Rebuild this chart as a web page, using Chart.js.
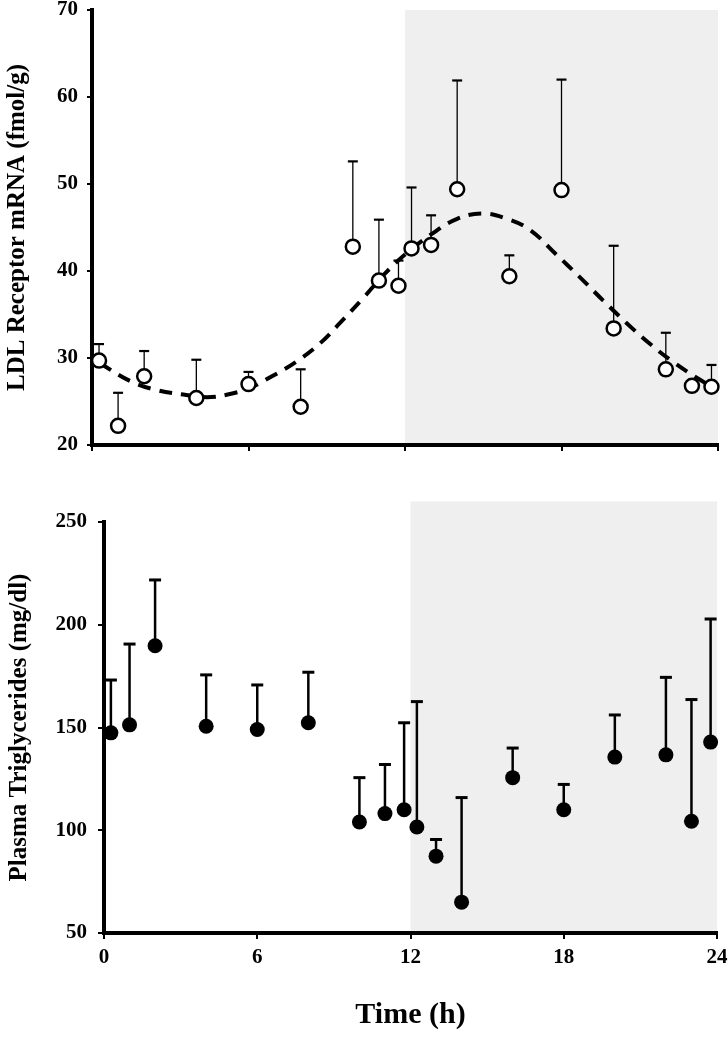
<!DOCTYPE html>
<html>
<head>
<meta charset="utf-8">
<script src="https://cdn.jsdelivr.net/npm/chart.js@4"></script>
<style>
  html, body { margin: 0; padding: 0; background: #fff; }
  body { width: 728px; height: 1050px; position: relative; overflow: hidden; }
  canvas { position: absolute; left: 0; }
</style>
</head>
<body>
<canvas id="c1" width="728" height="480" style="top:0px"></canvas>
<canvas id="c2" width="728" height="570" style="top:480px"></canvas>
<script>
// ---- data ----
const sampleTimes = [0.27, 1, 2, 4, 6, 8, 10, 11, 11.75, 12.25, 13, 14, 16, 18, 20, 22, 23, 23.75];
const ldlMean  = [29.7, 22.2, 27.9, 25.4, 27.0, 24.4, 42.8, 38.9, 38.3, 42.6, 43.0, 49.4, 39.4, 49.3, 33.4, 28.7, 26.8, 26.7];
const ldlUpper = [31.6, 26.0, 30.8, 29.8, 28.4, 28.7, 52.6, 45.9, 41.2, 49.6, 46.4, 61.9, 41.8, 62.0, 42.9, 32.9, null, 29.2];
const fitTimes  = [0.3, 1.5, 2.5, 3.5, 4.4, 5.2, 6.0, 6.9, 7.85, 8.75, 9.5, 10.4, 11.2, 12.0, 13.0, 14.0, 15.0, 15.9, 16.8, 17.8, 18.7, 19.6, 20.5, 21.4, 22.3, 23.2, 23.6];
const fitValues = [29.4, 27.3, 26.3, 25.8, 25.5, 25.8, 26.5, 27.9, 29.6, 31.7, 34.0, 36.9, 39.6, 41.9, 44.2, 46.0, 46.6, 46.0, 44.7, 41.9, 39.3, 36.6, 34.0, 31.6, 29.5, 27.7, 27.0];
const tgMean  = [147.4, 151.3, 189.8, 150.6, 149.0, 152.3, 104.0, 108.1, 110.0, 101.6, 87.4, 65.0, 125.6, 110.0, 135.6, 136.7, 104.4, 142.9];
const tgUpper = [173.1, 190.6, 221.8, 175.6, 170.7, 176.9, 125.6, 132.0, 152.3, 162.6, 95.5, 115.9, 140.0, 122.3, 156.1, 174.4, 163.6, 202.8];
const xTicks = [0, 6, 12, 18, 24];
const darkStart = 12, darkEnd = 24;
const ldlTicks = [20, 30, 40, 50, 60, 70];
const tgTicks = [50, 100, 150, 200, 250];

const FONT = '"Liberation Serif", "Times New Roman", serif';

const toXY = (xs, ys) => xs.map((x, i) => ({x: x, y: ys[i]}));

const shadePlugin = {
  id: 'shade',
  beforeDraw(chart, args, opts) {
    const {ctx, chartArea, scales} = chart;
    const x0 = scales.x.getPixelForValue(darkStart);
    const x1 = scales.x.getPixelForValue(darkEnd);
    const yTop = scales.y.getPixelForValue(opts.top);
    ctx.save();
    ctx.fillStyle = '#efefef';
    ctx.fillRect(x0, yTop, x1 - x0, chartArea.bottom - yTop);
    ctx.restore();
  }
};

const errPlugin = {
  id: 'errbars',
  beforeDatasetDraw(chart, args, opts) {
    if (args.index !== opts.dataset) return;
    const {ctx, scales} = chart;
    const ds = chart.data.datasets[args.index];
    ctx.save();
    ctx.strokeStyle = '#000';
    ds.data.forEach((p, i) => {
      const up = opts.upper[i];
      if (up == null) return;
      const px = scales.x.getPixelForValue(p.x);
      const py = scales.y.getPixelForValue(p.y);
      const pu = scales.y.getPixelForValue(up);
      ctx.lineWidth = opts.lineWidth;
      ctx.beginPath();
      ctx.moveTo(px, py);
      ctx.lineTo(px, pu);
      ctx.stroke();
      ctx.lineWidth = opts.capWidth;
      ctx.beginPath();
      ctx.moveTo(px - opts.cap, pu);
      ctx.lineTo(px + opts.cap, pu);
      ctx.stroke();
    });
    ctx.restore();
  }
};

function axisCommon(tickLen) {
  return {
    grid: { display: true, drawOnChartArea: false, drawTicks: true, tickLength: tickLen, color: '#000', lineWidth: 2 },
    border: { display: true, color: '#000', width: 4 }
  };
}

// ---- top chart ----
new Chart(document.getElementById('c1'), {
  type: 'scatter',
  data: {
    datasets: [
      {
        type: 'line', data: toXY(fitTimes, fitValues),
        borderColor: '#000', borderWidth: 4, borderDash: [13, 9],
        pointRadius: 0, tension: 0.4,
        fill: false, order: 2, clip: false
      },
      {
        type: 'scatter', data: toXY(sampleTimes, ldlMean),
        pointRadius: 7, pointBorderWidth: 2.5, pointBackgroundColor: '#fff',
        pointBorderColor: '#000', order: 1, clip: false
      }
    ]
  },
  options: {
    responsive: false, animation: false, events: [],
    layout: { padding: { top: 10, right: 10, left: 0, bottom: 0 } },
    plugins: {
      legend: { display: false }, tooltip: { enabled: false },
      shade: { top: 70 },
      errbars: { dataset: 1, upper: ldlUpper, lineWidth: 1.3, capWidth: 2.2, cap: 5 }
    },
    scales: {
      x: Object.assign(axisCommon(6), {
        type: 'linear', min: 0, max: 24,
        afterBuildTicks(s) { s.ticks = xTicks.map(v => ({value: v})); },
        ticks: { display: false },
        afterFit(s) { s.height = 35; s.paddingLeft = 0; s.paddingRight = 0; }
      }),
      y: Object.assign(axisCommon(5), {
        type: 'linear', min: 20, max: 70,
        afterBuildTicks(s) { s.ticks = ldlTicks.map(v => ({value: v})); },
        ticks: { color: '#000', padding: 9, font: { family: FONT, size: 21, weight: 'bold' } },
        title: { display: true, text: 'LDL Receptor mRNA (fmol/g)', color: '#000',
                 font: { family: FONT, size: 25, weight: 'bold' }, padding: { top: 3, bottom: 0 } },
        afterFit(s) { s.width = 92; s.paddingTop = 0; s.paddingBottom = 0; }
      })
    }
  },
  plugins: [shadePlugin, errPlugin]
});

// ---- bottom chart ----
new Chart(document.getElementById('c2'), {
  type: 'scatter',
  data: {
    datasets: [
      {
        type: 'scatter', data: toXY(sampleTimes, tgMean),
        pointRadius: 7.5, pointBorderWidth: 0, pointBackgroundColor: '#000',
        pointBorderColor: '#000', clip: false
      }
    ]
  },
  options: {
    responsive: false, animation: false, events: [],
    layout: { padding: { top: 42, right: 11, left: 0, bottom: 0 } },
    plugins: {
      legend: { display: false }, tooltip: { enabled: false },
      shade: { top: 260 },
      errbars: { dataset: 0, upper: tgUpper, lineWidth: 2.5, capWidth: 3, cap: 6 }
    },
    scales: {
      x: Object.assign(axisCommon(6), {
        type: 'linear', min: 0, max: 24,
        afterBuildTicks(s) { s.ticks = xTicks.map(v => ({value: v})); },
        ticks: { color: '#000', padding: 6, maxRotation: 0, font: { family: FONT, size: 21, weight: 'bold' } },
        title: { display: true, text: 'Time (h)', color: '#000',
                 font: { family: FONT, size: 30, weight: 'bold' }, padding: { top: 0, bottom: 17 } },
        afterFit(s) { s.height = 117; s.paddingRight = 0; s.paddingLeft = 0; }
      }),
      y: Object.assign(axisCommon(6), {
        type: 'linear', min: 50, max: 250,
        afterBuildTicks(s) { s.ticks = tgTicks.map(v => ({value: v})); },
        ticks: { color: '#000', padding: 11, font: { family: FONT, size: 21, weight: 'bold' } },
        title: { display: true, text: 'Plasma Triglycerides (mg/dl)', color: '#000',
                 font: { family: FONT, size: 25, weight: 'bold' }, padding: { top: 5, bottom: 0 } },
        afterFit(s) { s.width = 104; s.paddingTop = 0; s.paddingBottom = 0; }
      })
    }
  },
  plugins: [shadePlugin, errPlugin]
});
</script>
</body>
</html>
